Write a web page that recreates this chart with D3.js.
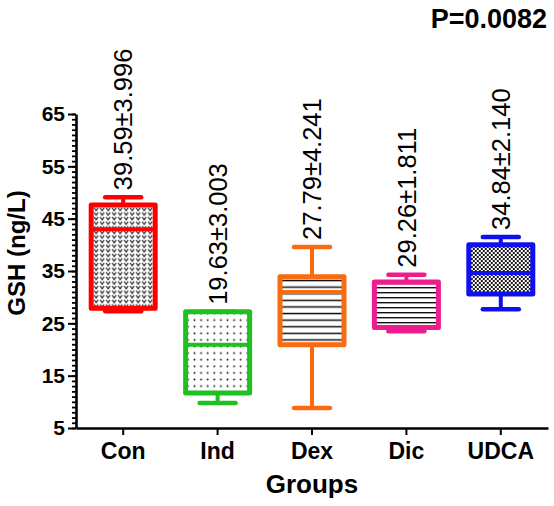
<!DOCTYPE html>
<html>
<head>
<meta charset="utf-8">
<title>GSH boxplot</title>
<script src="https://d3js.org/d3.v7.min.js"></script>
<style>
  body { margin: 0; background: #fff; }
  svg { display: block; font-family: "Liberation Sans", Arial, sans-serif; }
</style>
</head>
<body>
<svg id="chart" width="554" height="506"></svg>
<script>
// data
const groups = ["Con", "Ind", "Dex", "Dic", "UDCA"];
const whiskerLow = [27.3, 9.8, 8.8, 23.5, 27.7];
const q1 = [27.9, 11.7, 20.9, 24.2, 30.6];
const medians = [43.0, 20.9, 31.0, 32.8, 34.6];
const q3 = [47.6, 27.2, 33.9, 32.9, 40.0];
const whiskerHigh = [49.1, 27.2, 39.6, 34.3, 41.5];
const meanLabels = ["39.59\u00b13.996", "19.63\u00b13.003", "27.79\u00b14.241", "29.26\u00b11.811", "34.84\u00b12.140"];
const majorTicks = [5, 15, 25, 35, 45, 55, 65];
const pValue = "P=0.0082";

const colors = ["#ff0000", "#1fc11f", "#fa6a10", "#ee1c8c", "#1010ee"];
const patternIds = ["pCon", "pInd", "pDex", "pDic", "pUdca"];

const svg = d3.select("#chart");
const plotL = 76, plotR = 548, plotT = 114, plotB = 428;

const x = d3.scaleBand().domain(groups).range([plotL, plotR]).padding(0);
const y = d3.scaleLinear().domain([5, 65]).range([plotB, plotT]);

// fill patterns
const defs = svg.append("defs");
let p = defs.append("pattern").attr("id", "pCon").attr("patternUnits", "userSpaceOnUse")
  .attr("width", 6).attr("height", 4.6);
p.append("rect").attr("width", 6).attr("height", 4.6).attr("fill", "#fff");
p.append("path").attr("d", "M1,0.9 L3,3.6 L5,0.9").attr("fill", "none")
  .attr("stroke", "#222").attr("stroke-width", 1.1);

p = defs.append("pattern").attr("id", "pInd").attr("patternUnits", "userSpaceOnUse")
  .attr("width", 6.6).attr("height", 6.6);
p.append("rect").attr("width", 6.6).attr("height", 6.6).attr("fill", "#fff");
p.append("circle").attr("cx", 3.3).attr("cy", 3.3).attr("r", 0.95).attr("fill", "#111");

p = defs.append("pattern").attr("id", "pDex").attr("patternUnits", "userSpaceOnUse")
  .attr("width", 8).attr("height", 6.6);
p.append("rect").attr("width", 8).attr("height", 6.6).attr("fill", "#fff");
p.append("rect").attr("y", 2.6).attr("width", 8).attr("height", 1.5).attr("fill", "#111");

p = defs.append("pattern").attr("id", "pDic").attr("patternUnits", "userSpaceOnUse")
  .attr("width", 8).attr("height", 5);
p.append("rect").attr("width", 8).attr("height", 5).attr("fill", "#fff");
p.append("rect").attr("y", 2).attr("width", 8).attr("height", 1.4).attr("fill", "#111");

p = defs.append("pattern").attr("id", "pUdca").attr("patternUnits", "userSpaceOnUse")
  .attr("width", 4).attr("height", 4);
p.append("rect").attr("width", 4).attr("height", 4).attr("fill", "#fff");
p.append("rect").attr("width", 2).attr("height", 2).attr("fill", "#1a1a1a");
p.append("rect").attr("x", 2).attr("y", 2).attr("width", 2).attr("height", 2).attr("fill", "#1a1a1a");

// axes
const yMinor = svg.append("g").attr("transform", `translate(${plotL},0)`)
  .call(d3.axisLeft(y).tickValues(d3.range(5, 66, 1)).tickSize(4).tickFormat(""));
yMinor.select(".domain").remove();
yMinor.selectAll("line").attr("stroke", "#000").attr("stroke-width", 1.8);

const yAxis = svg.append("g").attr("transform", `translate(${plotL},0)`)
  .call(d3.axisLeft(y).tickValues(majorTicks).tickSize(8).tickPadding(3).tickSizeOuter(0));
yAxis.select(".domain").attr("stroke", "#000").attr("stroke-width", 2.6);
yAxis.selectAll("line").attr("stroke", "#000").attr("stroke-width", 2);
yAxis.selectAll("text").attr("font-size", 21).attr("font-weight", "bold")
  .attr("font-family", "'Liberation Sans', Arial, sans-serif").attr("fill", "#000");

const xAxis = svg.append("g").attr("transform", `translate(0,${plotB})`)
  .call(d3.axisBottom(x).tickSize(7).tickPadding(8).tickSizeOuter(0));
xAxis.select(".domain").attr("stroke", "#000").attr("stroke-width", 2.6);
xAxis.selectAll("line").attr("stroke", "#000").attr("stroke-width", 2);
xAxis.selectAll("text").attr("font-size", 23).attr("font-weight", "bold")
  .attr("font-family", "'Liberation Sans', Arial, sans-serif").attr("fill", "#000");

// boxes
const boxW = 64, capW = 36;
const rows = groups.map((g, i) => ({
  g, i, lo: whiskerLow[i], q1: q1[i], med: medians[i], q3: q3[i], hi: whiskerHigh[i]
}));

const box = svg.selectAll("g.box").data(rows).join("g").attr("class", "box")
  .attr("transform", d => `translate(${x(d.g) + x.bandwidth() / 2},0)`);

box.append("line").attr("y1", d => y(d.hi)).attr("y2", d => y(d.q3))
  .attr("stroke", d => colors[d.i]).attr("stroke-width", 4);
box.append("line").attr("y1", d => y(d.q1)).attr("y2", d => y(d.lo))
  .attr("stroke", d => colors[d.i]).attr("stroke-width", 4);
box.append("line").attr("x1", -capW / 2).attr("x2", capW / 2)
  .attr("y1", d => y(d.hi)).attr("y2", d => y(d.hi))
  .attr("stroke", d => colors[d.i]).attr("stroke-width", 4.5).attr("stroke-linecap", "round");
box.append("line").attr("x1", -capW / 2).attr("x2", capW / 2)
  .attr("y1", d => y(d.lo)).attr("y2", d => y(d.lo))
  .attr("stroke", d => colors[d.i]).attr("stroke-width", 4.5).attr("stroke-linecap", "round");

box.append("rect").attr("x", -boxW / 2).attr("width", boxW)
  .attr("y", d => y(d.q3)).attr("height", d => y(d.q1) - y(d.q3))
  .attr("fill", d => `url(#${patternIds[d.i]})`)
  .attr("stroke", d => colors[d.i]).attr("stroke-width", 5)
  .attr("stroke-linejoin", "round");

box.append("line").attr("x1", -boxW / 2).attr("x2", boxW / 2)
  .attr("y1", d => y(d.med)).attr("y2", d => y(d.med))
  .attr("stroke", d => colors[d.i]).attr("stroke-width", 4);

// mean ± sd labels
box.append("text")
  .attr("transform", d => `translate(0,${y(d.hi) - 7}) rotate(-90)`)
  .attr("dy", "0.36em")
  .attr("font-size", 25.5)
  .attr("fill", "#000")
  .text(d => meanLabels[d.i]);

// titles
svg.append("text")
  .attr("transform", `translate(25,253) rotate(-90)`)
  .attr("text-anchor", "middle")
  .attr("font-size", 24).attr("font-weight", "bold")
  .text("GSH (ng/L)");

svg.append("text")
  .attr("x", (plotL + plotR) / 2).attr("y", 493)
  .attr("text-anchor", "middle")
  .attr("font-size", 26).attr("font-weight", "bold")
  .text("Groups");

svg.append("text")
  .attr("x", 547).attr("y", 28)
  .attr("text-anchor", "end")
  .attr("font-size", 27).attr("font-weight", "bold")
  .text(pValue);
</script>
</body>
</html>
